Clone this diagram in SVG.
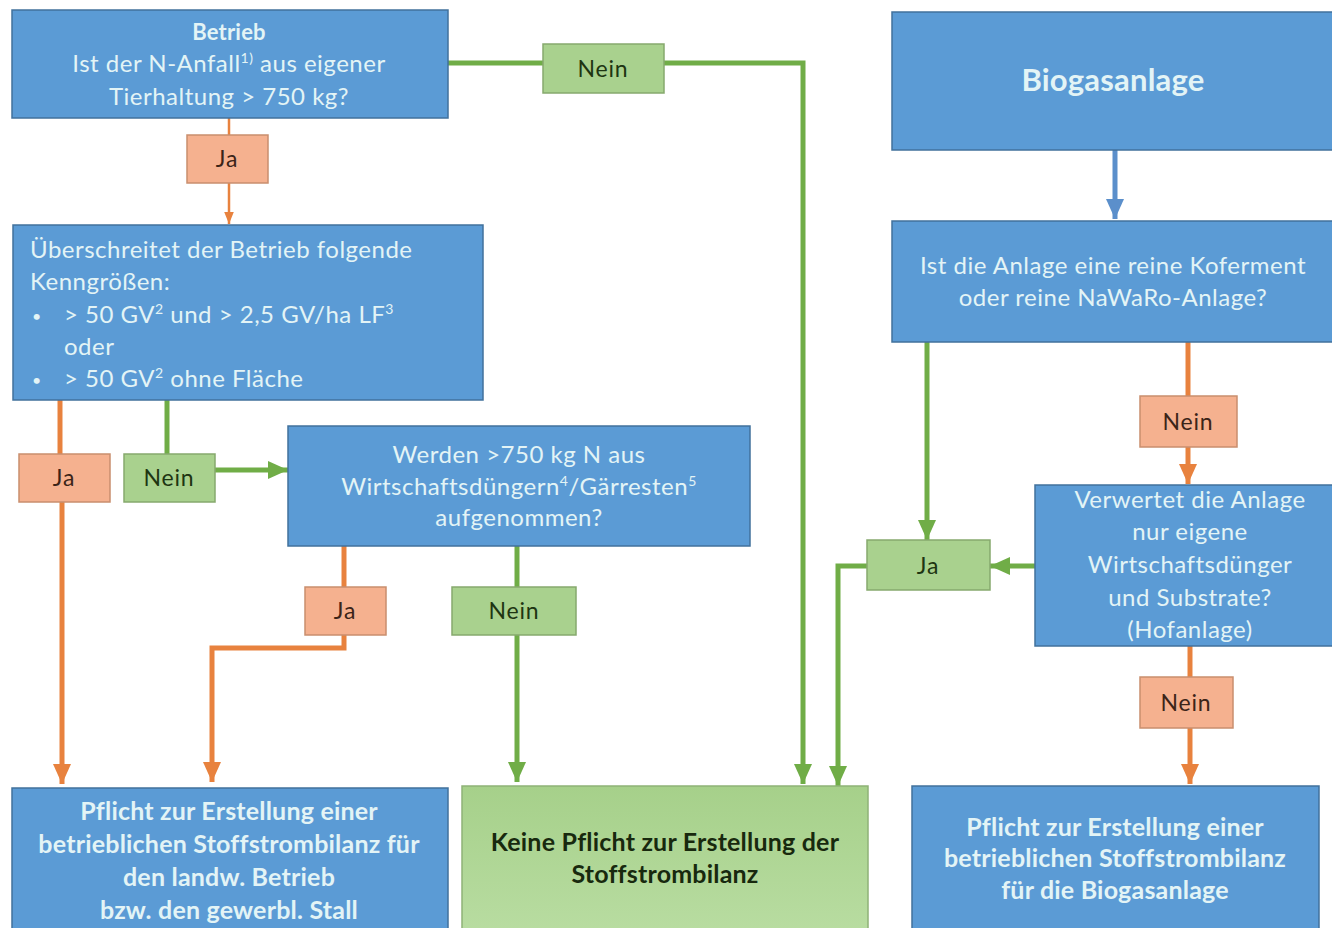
<svg xmlns="http://www.w3.org/2000/svg" width="1332" height="928" viewBox="0 0 1332 928">
<defs>
<style>
.box{fill:#5B9BD5;stroke:#41719C;stroke-width:1.5}
.gbox{fill:url(#gg);stroke:#8FB277;stroke-width:1.5}
.lo{fill:#F5B18F;stroke:#C98E6E;stroke-width:1.5}
.lg{fill:#A9D18E;stroke:#86A96D;stroke-width:1.5}
.t{font-family:Lato,"Open Sans","Liberation Sans",sans-serif;font-size:24px;letter-spacing:0.5px;fill:#E3F4F6;text-anchor:middle}
.tl{text-anchor:start}
.b{font-weight:bold;font-size:25px;letter-spacing:0.2px}
.lt{font-family:Lato,"Open Sans","Liberation Sans",sans-serif;font-size:23px;letter-spacing:0.8px;text-anchor:middle}
.to{fill:#3B2418}
.tg{fill:#1E3512}
.eg{fill:none;stroke:#70AD47;stroke-width:5}
.eo{fill:none;stroke:#E8823E;stroke-width:5}
.eb{fill:none;stroke:#5B8FCB;stroke-width:5}
</style>
<linearGradient id="gg" x1="0" y1="0" x2="0" y2="1">
<stop offset="0" stop-color="#A6D08A"/>
<stop offset="1" stop-color="#B9DDA2"/>
</linearGradient>
<marker id="mg" viewBox="0 0 20 20" refX="20" refY="10" markerWidth="20" markerHeight="20" markerUnits="userSpaceOnUse" orient="auto"><path d="M0,1 L20,10 L0,19 z" fill="#70AD47"/></marker>
<marker id="mo" viewBox="0 0 20 20" refX="20" refY="10" markerWidth="20" markerHeight="20" markerUnits="userSpaceOnUse" orient="auto"><path d="M0,1 L20,10 L0,19 z" fill="#E8823E"/></marker>
<marker id="mos" viewBox="0 0 20 20" refX="20" refY="10" markerWidth="12" markerHeight="12" markerUnits="userSpaceOnUse" orient="auto"><path d="M0,2 L20,10 L0,18 z" fill="#E8823E"/></marker>
<marker id="mb" viewBox="0 0 20 20" refX="20" refY="10" markerWidth="20" markerHeight="20" markerUnits="userSpaceOnUse" orient="auto"><path d="M0,1 L20,10 L0,19 z" fill="#5B8FCB"/></marker>
</defs>
<rect width="1332" height="928" fill="#FFFFFF"/>

<g id="connectors">
<path class="eg" d="M448,63 H543"/>
<path class="eg" d="M664,63 H803 V784" marker-end="url(#mg)"/>
<path class="eo" style="stroke-width:2.5" d="M229,118 V135"/>
<path class="eo" style="stroke-width:2.5" d="M229,183 V224" marker-end="url(#mos)"/>
<path class="eo" d="M60,400 V454"/>
<path class="eo" d="M62,502 V784" marker-end="url(#mo)"/>
<path class="eg" d="M167,400 V454"/>
<path class="eg" d="M215,470 H288" marker-end="url(#mg)"/>
<path class="eo" d="M344,546 V587"/>
<path class="eo" d="M344,635 V648 H212 V782" marker-end="url(#mo)"/>
<path class="eg" d="M517,546 V587"/>
<path class="eg" d="M517,635 V782" marker-end="url(#mg)"/>
<path class="eb" d="M1115,150 V219" marker-end="url(#mb)"/>
<path class="eg" d="M927,342 V540" marker-end="url(#mg)"/>
<path class="eo" d="M1188,342 V396"/>
<path class="eo" d="M1188,447 V484" marker-end="url(#mo)"/>
<path class="eg" d="M1035,566 H990" marker-end="url(#mg)"/>
<path class="eg" d="M867,566 H838 V786" marker-end="url(#mg)"/>
<path class="eo" d="M1190,646 V677"/>
<path class="eo" d="M1190,728 V784" marker-end="url(#mo)"/>
</g>

<g id="n-betrieb">
<rect class="box" x="12" y="10" width="436" height="108"/>
<text class="t b" x="229" y="40" style="font-size:22px">Betrieb</text>
<text class="t" x="229" y="72">Ist der N-Anfall<tspan font-size="14" dy="-9">1)</tspan><tspan dy="9"> aus eigener</tspan></text>
<text class="t" x="229" y="105">Tierhaltung &gt; 750  kg?</text>
</g>

<g id="l-nein-top">
<rect class="lg" x="543" y="44" width="121" height="49"/>
<text class="lt tg" x="603" y="77">Nein</text>
</g>

<g id="l-ja-1">
<rect class="lo" x="187" y="135" width="81" height="48"/>
<text class="lt to" x="227" y="167">Ja</text>
</g>

<g id="n-kenngroessen">
<rect class="box" x="13" y="225" width="470" height="175"/>
<text class="t tl" x="30" y="258">Überschreitet der Betrieb folgende</text>
<text class="t tl" x="30" y="290">Kenngrößen:</text>
<text class="t tl" x="32" y="322" style="font-size:16px">•</text>
<text class="t tl" x="64" y="323">&gt; 50 GV<tspan font-size="14" dy="-9">2</tspan><tspan dy="9">  und &gt; 2,5 GV/ha LF</tspan><tspan font-size="14" dy="-9">3</tspan></text>
<text class="t tl" x="64" y="355">oder</text>
<text class="t tl" x="32" y="386" style="font-size:16px">•</text>
<text class="t tl" x="64" y="387">&gt; 50 GV<tspan font-size="14" dy="-9">2</tspan><tspan dy="9"> ohne Fläche</tspan></text>
</g>

<g id="l-ja-2">
<rect class="lo" x="19" y="454" width="91" height="48"/>
<text class="lt to" x="64" y="486">Ja</text>
</g>

<g id="l-nein-2">
<rect class="lg" x="124" y="454" width="91" height="48"/>
<text class="lt tg" x="169" y="486">Nein</text>
</g>

<g id="n-werden">
<rect class="box" x="288" y="426" width="462" height="120"/>
<text class="t" x="519" y="463">Werden &gt;750  kg N aus</text>
<text class="t" x="519" y="495">Wirtschaftsdüngern<tspan font-size="14" dy="-9">4</tspan><tspan dy="9">/Gärresten</tspan><tspan font-size="14" dy="-9">5</tspan></text>
<text class="t" x="519" y="526">aufgenommen?</text>
</g>

<g id="l-ja-3">
<rect class="lo" x="305" y="587" width="81" height="48"/>
<text class="lt to" x="345" y="619">Ja</text>
</g>

<g id="l-nein-3">
<rect class="lg" x="452" y="587" width="124" height="48"/>
<text class="lt tg" x="514" y="619">Nein</text>
</g>

<g id="n-pflicht-betrieb">
<rect class="box" x="12" y="788" width="436" height="150"/>
<text class="t b" x="229" y="820">Pflicht zur Erstellung einer</text>
<text class="t b" x="229" y="853">betrieblichen Stoffstrombilanz für</text>
<text class="t b" x="229" y="886">den landw. Betrieb</text>
<text class="t b" x="229" y="919">bzw. den gewerbl. Stall</text>
</g>

<g id="n-keine-pflicht">
<rect class="gbox" x="462" y="786" width="406" height="152"/>
<text class="t b" x="665" y="851" style="fill:#18290E">Keine Pflicht zur Erstellung der</text>
<text class="t b" x="665" y="883" style="fill:#18290E">Stoffstrombilanz</text>
</g>

<g id="n-biogasanlage">
<rect class="box" x="892" y="12" width="450" height="138"/>
<text class="t b" x="1113" y="91" style="font-size:31px">Biogasanlage</text>
</g>

<g id="n-koferment">
<rect class="box" x="892" y="221" width="450" height="121"/>
<text class="t" x="1113" y="274">Ist die Anlage eine reine Koferment</text>
<text class="t" x="1113" y="306">oder reine NaWaRo-Anlage?</text>
</g>

<g id="l-nein-4">
<rect class="lo" x="1140" y="396" width="97" height="51"/>
<text class="lt to" x="1188" y="430">Nein</text>
</g>

<g id="n-hofanlage">
<rect class="box" x="1035" y="485" width="307" height="161"/>
<text class="t" x="1190" y="508">Verwertet die Anlage</text>
<text class="t" x="1190" y="540">nur eigene</text>
<text class="t" x="1190" y="573">Wirtschaftsdünger</text>
<text class="t" x="1190" y="606">und Substrate?</text>
<text class="t" x="1190" y="638">(Hofanlage)</text>
</g>

<g id="l-ja-4">
<rect class="lg" x="867" y="540" width="123" height="50"/>
<text class="lt tg" x="928" y="574">Ja</text>
</g>

<g id="l-nein-5">
<rect class="lo" x="1140" y="677" width="93" height="51"/>
<text class="lt to" x="1186" y="711">Nein</text>
</g>

<g id="n-pflicht-biogas">
<rect class="box" x="912" y="786" width="407" height="152"/>
<text class="t b" x="1115" y="836">Pflicht zur Erstellung einer</text>
<text class="t b" x="1115" y="867">betrieblichen Stoffstrombilanz</text>
<text class="t b" x="1115" y="899">für die Biogasanlage</text>
</g>
</svg>
